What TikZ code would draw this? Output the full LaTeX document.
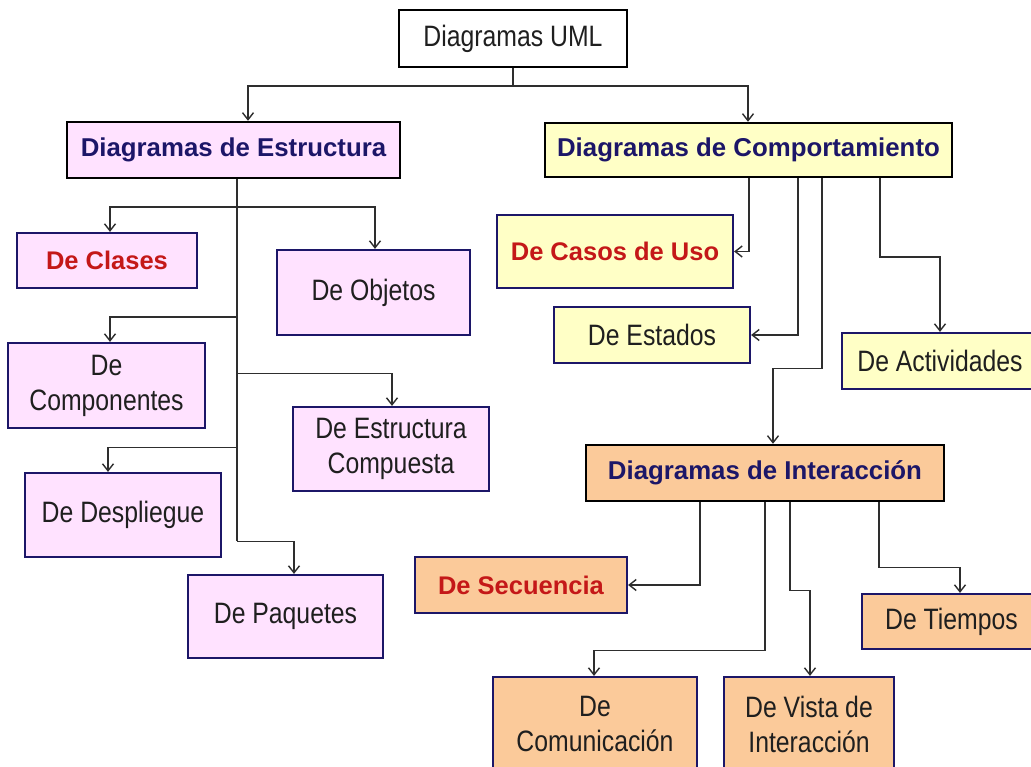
\documentclass[tikz,border=0pt]{standalone}
\usepackage{fontspec}
\setmainfont{Liberation Sans}
\newfontfamily\regf[FakeStretch=0.84]{Liberation Sans}
\usetikzlibrary{arrows.meta}
\definecolor{navy}{HTML}{1C1668}
\definecolor{redt}{HTML}{C41818}
\definecolor{pinkF}{HTML}{FFE2FF}
\definecolor{yelF}{HTML}{FFFFC6}
\definecolor{oraF}{HTML}{FBCA9A}
\definecolor{lineC}{HTML}{2E2E2E}
\tikzset{
  box/.style={rectangle, inner sep=0pt, align=center},
  catbox/.style={box, draw=black, line width=2.4pt, text=navy,
     font=\bfseries\fontsize{25.8}{30}\selectfont},
  leafbox/.style={box, draw=navy, line width=2.2pt, text=black!88,
     font=\regf\fontsize{29.5}{35}\selectfont},
  redleaf/.style={leafbox, text=redt, font=\bfseries\fontsize{25.5}{30}\selectfont},
  pinkbox/.style={fill=pinkF},
  yelbox/.style={fill=yelF},
  orabox/.style={fill=oraF},
  conn/.style={draw=lineC, line width=1.4pt, -{Straight Barb[length=7pt,width=11pt,line width=1.4pt]}},
  plain/.style={draw=lineC, line width=1.4pt}
}
\begin{document}
\begin{tikzpicture}[x=1pt,y=-1pt]
\useasboundingbox (0,0) rectangle (1031,767);
\fill[white] (0,0) rectangle (1031,767);
\clip (0,0) rectangle (1031,767);

% top
\node[box, draw=black, line width=2.4pt, fill=white, text=black!88, font=\regf\fontsize{29.5}{35}\selectfont,
      minimum width=228pt, minimum height=57pt] (uml) at (513,38.5) {Diagramas UML};

% structure
\node[catbox, pinkbox, minimum width=333pt, minimum height=56pt] (est) at (233.5,150) {Diagramas de Estructura};
\node[redleaf, pinkbox, minimum width=180pt, minimum height=55pt] (cla) at (107,260.5) {De Clases};
\node[leafbox, pinkbox, minimum width=193pt, minimum height=85pt] (obj) at (373.5,292.5) {De Objetos};
\node[leafbox, pinkbox, minimum width=197pt, minimum height=85pt] (com) at (106.5,385.5) {De\\Componentes};
\node[leafbox, pinkbox, minimum width=196pt, minimum height=84pt] (ecp) at (391,449) {De Estructura\\Compuesta};
\node[leafbox, pinkbox, minimum width=196pt, minimum height=84pt] (dep) at (123,515) {De Despliegue};
\node[leafbox, pinkbox, minimum width=195pt, minimum height=83pt] (paq) at (285.5,616.5) {De Paquetes};

% behaviour
\node[catbox, yelbox, minimum width=407pt, minimum height=54pt] (cmp) at (748.5,150) {Diagramas de Comportamiento};
\node[redleaf, yelbox, minimum width=236pt, minimum height=73pt] (cu) at (615,251.5) {De Casos de Uso};
\node[leafbox, yelbox, minimum width=196pt, minimum height=56pt] (std) at (652,335) {De Estados};
\node[leafbox, yelbox, minimum width=196pt, minimum height=56pt] (act) at (940,361) {De Actividades};

% interaction
\node[catbox, orabox, minimum width=358pt, minimum height=56pt] (int) at (765,473) {Diagramas de Interacción};
\node[redleaf, orabox, minimum width=212pt, minimum height=56pt] (sec) at (521,585) {De Secuencia};
\node[leafbox, orabox, minimum width=179pt, minimum height=55pt] (tie) at (951.5,621.5) {De Tiempos};
\node[leafbox, orabox, minimum width=204pt, minimum height=94pt] (cmn) at (595,724) {De\\Comunicación};
\node[leafbox, orabox, minimum width=170pt, minimum height=94pt] (vis) at (809,724) {De Vista de\\Interacción};

% connectors from top
\draw[conn] (uml.south) -- ++(0,18) -| ([xshift=14.5]est.north);
\draw[conn] (uml.south) -- ++(0,18) -| ([xshift=-0.5]cmp.north);

% structure tree
\coordinate (tr) at ([xshift=3.5]est.south);
\draw[plain] (tr) -- ([yshift=-362]tr);
\draw[conn] ([yshift=-28]tr) -| ([xshift=3]cla.north);
\draw[conn] ([yshift=-28]tr) -| ([xshift=1.5]obj.north);
\draw[conn] ([yshift=-138]tr) -| ([xshift=3.5]com.north);
\draw[conn] ([yshift=-194]tr) -| ([xshift=1]ecp.north);
\draw[conn] ([yshift=-268]tr) -| ([xshift=-15]dep.north);
\draw[conn] ([yshift=-362]tr) -| ([xshift=8.5]paq.north);

% behaviour tree
\draw[conn] ([xshift=0.5]cmp.south) |- (cu.east);
\draw[conn] ([xshift=49.5]cmp.south) |- (std.east);
\draw[conn] ([xshift=73.5]cmp.south) -- ++(0,190) -| ([xshift=8]int.north);
\draw[conn] ([xshift=131.5]cmp.south) -- ++(0,79) -| (act.north);

% interaction tree
\draw[conn] ([xshift=-65]int.south) |- (sec.east);
\draw[conn] (int.south) -- ++(0,148) -| ([xshift=-1]cmn.north);
\draw[conn] ([xshift=25]int.south) -- ++(0,88) -| ([xshift=1]vis.north);
\draw[conn] ([xshift=114]int.south) -- ++(0,65) -| ([xshift=8.5]tie.north);
\end{tikzpicture}
\end{document}
